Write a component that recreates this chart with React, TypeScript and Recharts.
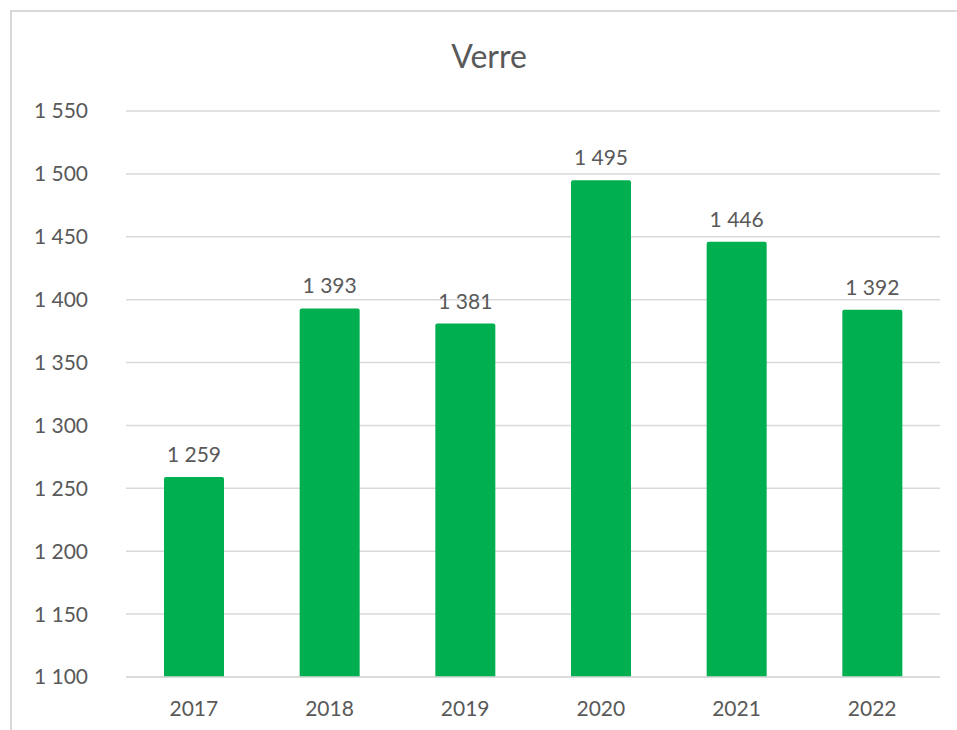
import { Bar, BarChart, CartesianGrid, LabelList, XAxis, YAxis } from "recharts";

const years = ["2017", "2018", "2019", "2020", "2021", "2022"];
const tonnes = [1259, 1393, 1381, 1495, 1446, 1392];
const yTicks = [1100, 1150, 1200, 1250, 1300, 1350, 1400, 1450, 1500, 1550];

const data = years.map((year, i) => ({ year, value: tonnes[i] }));

const fmt = (n: number | string) => String(n).replace(/\B(?=(\d{3})+(?!\d))/g, " ");

const font = "Lato, 'Open Sans', sans-serif";
const grey = "#595959";

export default function App() {
  return (
    <div
      style={{
        position: "absolute",
        left: 0,
        top: 0,
        width: 957,
        height: 730,
        background: "#fff",
        overflow: "hidden",
        fontFamily: font,
      }}
    >
      <div
        style={{
          position: "absolute",
          left: 10,
          top: 10,
          width: 990,
          height: 740,
          border: "2px solid #d9d9d9",
        }}
      />
      <div
        style={{
          position: "absolute",
          left: 0,
          width: 978,
          top: 36,
          lineHeight: "40px",
          textAlign: "center",
          fontSize: 32,
          color: grey,
        }}
      >
        Verre
      </div>
      <div style={{ position: "absolute", left: 0, top: 0 }}>
        <BarChart
          width={957}
          height={730}
          data={data}
          margin={{ top: 111, right: 17, bottom: 23, left: 0 }}
          barCategoryGap={38}
        >
          <CartesianGrid vertical={false} stroke="#d9d9d9" strokeWidth={1.5} />
          <XAxis
            dataKey="year"
            axisLine={{ stroke: "#d9d9d9", strokeWidth: 1.5 }}
            tickLine={false}
            tickSize={0}
            tickMargin={24}
            tick={{ fill: grey, fontSize: 21, fontFamily: font }}
          />
          <YAxis
            width={126}
            domain={[1100, 1550]}
            ticks={yTicks}
            axisLine={false}
            tickLine={false}
            tickSize={0}
            tickMargin={38}
            tickFormatter={fmt}
            tick={{ fill: grey, fontSize: 21, fontFamily: font }}
          />
          <Bar dataKey="value" fill="#00b050" radius={[2, 2, 0, 0]} isAnimationActive={false}>
            <LabelList
              dataKey="value"
              position="top"
              offset={15}
              formatter={fmt}
              style={{ fill: grey, fontSize: 21, fontFamily: font }}
            />
          </Bar>
        </BarChart>
      </div>
    </div>
  );
}
